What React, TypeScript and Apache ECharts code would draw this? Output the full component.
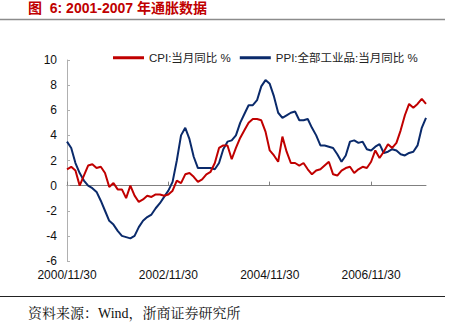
import React, { useEffect, useRef } from "react";
import * as echarts from "echarts";

// Month-end dates 2000/11/30 .. 2007/12/31
const monthEnds = (): string[] => {
  const out: string[] = [];
  let y = 2000, m = 11;
  while (y < 2007 || (y === 2007 && m <= 12)) {
    const last = new Date(y, m, 0).getDate();
    out.push(`${y}/${m}/${last}`);
    m++;
    if (m > 12) { m = 1; y++; }
  }
  return out;
};
const categories: string[] = monthEnds();

const cpi: number[] = [
  1.3, 1.5,
  1.2, 0.0, 0.8, 1.6, 1.7, 1.4, 1.5, 1.0, -0.1, 0.2, -0.3, -0.3,
  -1.0, 0.0, -0.8, -1.3, -1.1, -0.8, -0.9, -0.7, -0.7, -0.8, -0.7, -0.4,
  0.4, 0.2, 0.9, 1.0, 0.7, 0.3, 0.5, 0.9, 1.1, 1.8, 3.0, 3.2,
  3.2, 2.1, 3.0, 3.8, 4.4, 5.0, 5.3, 5.3, 5.2, 4.3, 2.8, 2.4,
  1.9, 3.9, 2.7, 1.8, 1.8, 1.6, 1.8, 1.3, 0.9, 1.2, 1.3, 1.6,
  1.9, 0.9, 0.8, 1.2, 1.4, 1.5, 1.0, 1.3, 1.5, 1.4, 1.9, 2.8,
  2.2, 2.7, 3.3, 3.0, 3.4, 4.4, 5.6, 6.5, 6.2, 6.5, 6.9, 6.5,
];

const ppi: number[] = [
  3.5, 3.0,
  1.8, 1.0, 0.4, 0.0, -0.2, -0.5, -1.2, -2.0, -2.8, -3.1, -3.6, -4.0,
  -4.1, -4.2, -4.0, -3.3, -2.8, -2.5, -2.3, -1.8, -1.4, -0.9, -0.4, 0.3,
  2.0, 4.0, 4.6, 3.7, 2.3, 1.4, 1.4, 1.4, 1.4, 1.3, 1.8, 2.9,
  3.5, 3.6, 4.0, 5.0, 5.7, 6.4, 6.4, 6.8, 7.9, 8.4, 8.1, 7.1,
  5.8, 5.4, 5.6, 5.8, 5.9, 5.2, 5.2, 5.3, 4.6, 4.0, 3.2, 3.2,
  3.1, 3.0, 2.5, 1.9, 2.4, 3.5, 3.6, 3.4, 3.5, 2.9, 2.8, 3.1,
  3.3, 2.6, 2.7, 2.9, 2.8, 2.5, 2.4, 2.6, 2.7, 3.2, 4.6, 5.4,
];

const seriesNames = ["CPI:当月同比 %", "PPI:全部工业品:当月同比 %"];
const titleText = "图  6: 2001-2007 年通胀数据";
const sourceText = "资料来源：Wind，浙商证券研究所";

const RED = "#c00000";
const BLUE = "#0a2a6b";
const SANS = "'Liberation Sans', Arial, 'Noto Sans CJK SC', sans-serif";

export default function App() {
  const ref = useRef<HTMLDivElement>(null);
  useEffect(() => {
    if (!ref.current) return;
    const chart = echarts.init(ref.current, undefined, { renderer: "svg" });
    chart.setOption({
      animation: false,
      backgroundColor: "#ffffff",
      grid: { left: 67, right: 27, top: 60, bottom: 67 },
      legend: {
        top: 47,
        left: 108,
        itemGap: 9,
        itemWidth: 31,
        itemHeight: 3,
        icon: "rect",
        textStyle: { fontFamily: SANS, fontSize: 11.5, color: "#222" },
        data: seriesNames,
      },
      xAxis: [
        {
          type: "category",
          data: categories,
          boundaryGap: false,
          axisLine: { show: false, onZero: false },
          axisTick: { show: false },
          axisLabel: {
            interval: 23,
            margin: 8,
            fontFamily: SANS,
            fontSize: 12,
            color: "#111",
          },
          splitLine: { show: false },
        },
        {
          type: "category",
          data: categories,
          boundaryGap: false,
          position: "bottom",
          axisLine: { show: true, onZero: true, lineStyle: { color: "#808080", width: 1 } },
          axisTick: { show: true, inside: true, length: 4, interval: 23, lineStyle: { color: "#808080" } },
          axisLabel: { show: false },
          splitLine: { show: false },
        },
      ],
      yAxis: {
        type: "value",
        min: -6,
        max: 10,
        interval: 2,
        axisLine: { show: true, lineStyle: { color: "#b0b0b0" } },
        axisTick: { show: true, inside: true, length: 3, lineStyle: { color: "#b0b0b0" } },
        axisLabel: { margin: 10, fontFamily: SANS, fontSize: 12, color: "#111" },
        splitLine: { show: false },
      },
      series: [
        {
          name: seriesNames[0],
          type: "line",
          xAxisIndex: 0,
          data: cpi,
          showSymbol: false,
          symbol: "none",
          lineStyle: { color: RED, width: 2 },
          itemStyle: { color: RED },
          z: 3,
        },
        {
          name: seriesNames[1],
          type: "line",
          xAxisIndex: 0,
          data: ppi,
          showSymbol: false,
          symbol: "none",
          lineStyle: { color: BLUE, width: 2 },
          itemStyle: { color: BLUE },
          z: 2,
        },
      ],
      graphic: [
        {
          type: "text",
          left: 28,
          top: 1,
          style: {
            text: titleText,
            fontFamily: SANS,
            fontSize: 14,
            fontWeight: "bold",
            fill: RED,
          },
        },
        {
          type: "line",
          shape: { x1: 0, y1: 19.5, x2: 445, y2: 19.5 },
          style: { stroke: "#8c8c8c", lineWidth: 1.5 },
        },
        {
          type: "line",
          shape: { x1: 0, y1: 296.5, x2: 445, y2: 296.5 },
          style: { stroke: "#222", lineWidth: 1 },
        },
        {
          type: "text",
          left: 28,
          top: 306,
          style: {
            text: sourceText,
            fontFamily: "'Liberation Serif', 'Noto Serif CJK SC', 'Noto Sans CJK SC', serif",
            fontSize: 14,
            fill: "#111",
          },
        },
      ],
    });
    return () => chart.dispose();
  }, []);
  return (
    <div
      ref={ref}
      style={{ position: "fixed", left: 0, top: 0, width: 453, height: 328 }}
    />
  );
}
